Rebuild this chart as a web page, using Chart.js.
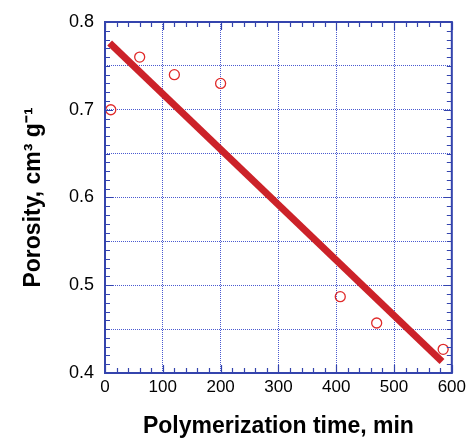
<!DOCTYPE html>
<html>
<head>
<meta charset="utf-8">
<script src="https://cdn.jsdelivr.net/npm/chart.js@4/dist/chart.umd.min.js"></script>
<style>
  html, body { margin: 0; padding: 0; background: #ffffff; }
  #wrap { width: 470px; height: 440px; }
</style>
</head>
<body>
<div id="wrap"><canvas id="c" width="470" height="440"></canvas></div>
<script>
// ---- data ----
const timeMin  = [10, 60, 120, 200, 407, 470, 585];
const porosity = [0.700, 0.760, 0.740, 0.730, 0.487, 0.457, 0.427];
const fitTime  = [8, 583];
const fitPoro  = [0.776, 0.413];
const xTicks   = [0, 100, 200, 300, 400, 500, 600];
const yTicks   = [0.4, 0.5, 0.6, 0.7, 0.8];
const xTitle   = 'Polymerization time, min';
const yTitle   = 'Porosity, cm\u00B3 g\u207B\u00B9';

const FRAME = '#3444ad';
const GRID  = '#4a5ad0';
const RED   = '#cc2229';
const FONT  = "'Liberation Sans', Arial, sans-serif";

const scatterPts = timeMin.map((t, i) => ({ x: t, y: porosity[i] }));
const fitPts = fitTime.map((t, i) => ({ x: t, y: fitPoro[i] }));

const frameTicks = {
  id: 'frameTicks',
  afterDraw(chart) {
    const { ctx, chartArea: a, scales: { x, y } } = chart;
    ctx.save();
    ctx.strokeStyle = FRAME;
    ctx.lineWidth = 1.2;
    ctx.beginPath();
    for (let v = xTicks[0]; v <= xTicks[xTicks.length - 1]; v += 20) {
      const px = Math.round(x.getPixelForValue(v)) + 0.5;
      const len = (v % 100 === 0) ? 8 : 5;
      ctx.moveTo(px, a.bottom); ctx.lineTo(px, a.bottom - len);
      ctx.moveTo(px, a.top);    ctx.lineTo(px, a.top + len);
    }
    for (let i = 0; i <= 40; i++) {
      const v = 0.4 + i * 0.01;
      const py = Math.round(y.getPixelForValue(v)) + 0.5;
      const len = (i % 10 === 0) ? 8 : 5;
      ctx.moveTo(a.left, py);  ctx.lineTo(a.left + len, py);
      ctx.moveTo(a.right, py); ctx.lineTo(a.right - len, py);
    }
    ctx.stroke();
    ctx.lineWidth = 2;
    ctx.strokeRect(a.left, a.top, a.right - a.left, a.bottom - a.top);
    ctx.restore();
  }
};

new Chart(document.getElementById('c'), {
  type: 'scatter',
  data: {
    datasets: [
      {
        type: 'line',
        label: 'fit',
        data: fitPts,
        borderColor: RED,
        borderWidth: 7,
        borderCapStyle: 'butt',
        pointRadius: 0,
        fill: false,
        tension: 0
      },
      {
        label: 'data',
        data: scatterPts,
        pointStyle: 'circle',
        pointRadius: 5,
        pointBorderWidth: 1.3,
        borderColor: '#e02a2a',
        backgroundColor: 'rgba(0,0,0,0)',
        pointBackgroundColor: 'rgba(0,0,0,0)'
      }
    ]
  },
  options: {
    responsive: false,
    animation: false,
    devicePixelRatio: 1,
    layout: { padding: { left: 0, top: 22, right: 17, bottom: 0 } },
    plugins: { legend: { display: false }, tooltip: { enabled: false } },
    scales: {
      x: {
        type: 'linear',
        min: xTicks[0],
        max: xTicks[xTicks.length - 1],
        afterFit(s) { s.height = 67; },
        afterBuildTicks(s) { s.ticks = xTicks.map(v => ({ value: v })); },
        ticks: {
          color: '#000',
          padding: 4,
          maxRotation: 0,
          font: { family: FONT, size: 17 },
          callback: v => String(v)
        },
        grid: { color: GRID, lineWidth: 1, drawTicks: false },
        border: { display: false, dash: [1, 1] },
        title: {
          display: true,
          text: xTitle,
          color: '#000',
          font: { family: FONT, size: 23, weight: 'bold' },
          padding: { top: 0, bottom: 0 }
        }
      },
      y: {
        type: 'linear',
        min: 0.4,
        max: 0.8,
        afterFit(s) { s.width = 105; },
        afterBuildTicks(s) {
          const t = [];
          for (let i = 0; i <= 8; i++) t.push({ value: 0.4 + i * 0.05 });
          s.ticks = t;
        },
        ticks: {
          color: '#000',
          padding: 11,
          font: { family: FONT, size: 18 },
          callback: v => {
            const r = Math.round(v * 10) / 10;
            return yTicks.some(t => Math.abs(t - v) < 1e-6) ? r.toFixed(1) : '';
          }
        },
        grid: { color: GRID, lineWidth: 1, drawTicks: false },
        border: { display: false, dash: [1, 1] },
        title: {
          display: true,
          text: yTitle,
          color: '#000',
          font: { family: FONT, size: 23, weight: 'bold' },
          padding: { top: 20, bottom: 0 }
        }
      }
    }
  },
  plugins: [frameTicks]
});
</script>
</body>
</html>
